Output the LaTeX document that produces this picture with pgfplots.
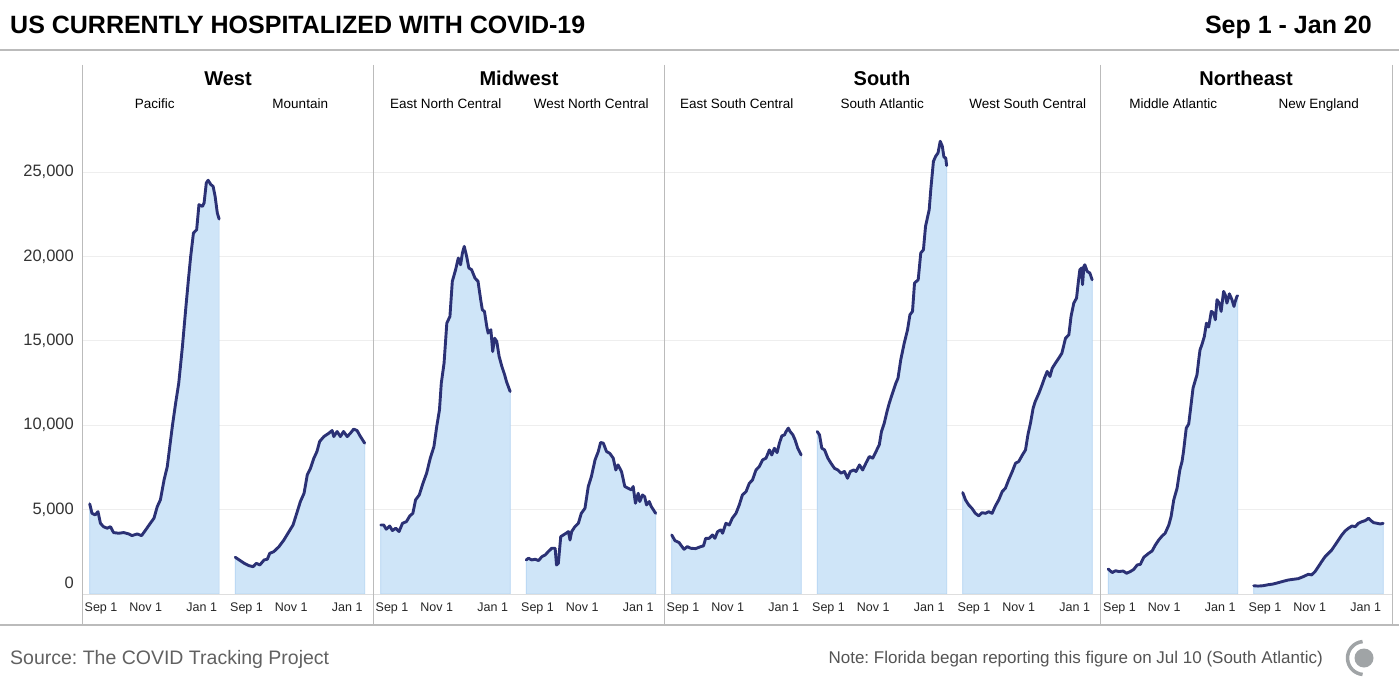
\documentclass[border=0pt]{standalone}
\usepackage{fontspec}
\setmainfont{Liberation Sans}
\usepackage{pgfplots}
\usepackage{pgfplotstable}
\pgfplotsset{compat=1.18}
\frenchspacing

\definecolor{navy}{HTML}{2B3175}
\definecolor{areafill}{HTML}{CFE5F8}
\definecolor{areaedge}{HTML}{B3D4F2}
\definecolor{sepgray}{HTML}{BBBBBB}
\definecolor{gridgray}{HTML}{EEEEEE}
\definecolor{logogray}{HTML}{A0A4A6}

% day since Sep 1, patients currently hospitalized
\pgfplotstableread{
d v
0 5340
2.5 4780
6 4690
9 4880
11.7 4190
15 3990
19 3900
22.6 3990
26 3640
31.7 3600
37 3640
42.6 3560
46 3460
51.7 3560
56.5 3460
61 3800
66 4190
70 4490
73.6 5180
77 5580
81 6760
84.5 7550
87 8640
90 9930
93.6 11310
97 12500
101 14670
104.5 16840
107.5 18620
110 20010
113 21390
116.5 21590
119 23070
122.8 22970
124.6 23170
127 24360
129 24520
132 24260
134.4 24160
136.6 23570
139 22580
141 22220
}\pacific

\pgfplotstableread{
d v
0 2180
4.3 2020
9.8 1820
15 1680
19.5 1620
23 1820
26.8 1720
31.5 2020
35 2060
37.6 2410
42 2510
47.7 2810
53 3200
58.6 3700
63 4090
67 4780
71 5480
75 5970
78.5 7060
82 7450
85.7 8050
89 8440
92 9040
96.6 9330
102 9530
105.6 9690
107.4 9330
111 9630
114.6 9330
118 9630
122 9330
125.5 9530
129 9770
132.7 9690
136 9370
141 8940
}\mountain

\pgfplotstableread{
d v
0 4090
3.3 4090
6 3840
9.8 4030
12.7 3760
16.4 3900
20 3700
23.7 4190
28 4290
31.7 4630
35 4780
38 5580
42 5870
46 6560
50 7160
54 8050
58 8740
61 9920
64 10910
66 12500
69 13680
72 16050
75.4 16450
78 18530
81.6 19220
84.5 19910
87 19510
89 20210
91 20600
93.6 20010
96 19320
99 19220
102.7 18720
106 18530
108.9 17440
110.7 16840
113 16750
115.5 15860
117 15460
120 15660
122 14370
124 15160
126.4 14970
129 14080
132 13480
135 12990
137 12590
141 12000
}\enc

\pgfplotstableread{
d v
0 2020
2.5 2120
6 2020
9.8 2060
13.4 1980
17 2210
20.6 2310
24 2510
27.8 2710
31.5 2710
33 1720
35 1820
37.6 3400
40.5 3500
43.4 3600
46 3700
47.7 3200
49.5 3700
53 3990
56.8 4190
60 4780
64 5080
67.6 6370
71 6960
75 7950
78.5 8440
81 8980
84 8940
87.5 8440
91 8340
94.8 8050
97.6 7350
100 7650
103.8 7260
107.4 6370
111 6270
114.6 6170
116.5 6370
119 5380
122 5970
123.7 5480
126.6 5870
129 5770
131 5280
134 5480
136.3 5180
141 4780
}\wnc

\pgfplotstableread{
d v
0 3500
3.6 3160
8 3050
10.6 2850
13.5 2650
17 2810
20.8 2710
26 2690
31.7 2810
34.6 2850
37 3300
40.8 3300
44.4 3500
47 3300
50 3700
53.6 3800
55.4 3600
59 4190
62.7 4090
66 4490
70 4780
73.6 5280
77 5870
81 6070
84.5 6560
88 6760
91.8 7350
95.4 7550
99 7950
102.7 8050
106.4 8540
109 8240
111.8 8640
114.8 8380
117.3 8940
120 9370
122.8 9430
124.6 9630
127 9830
129 9630
132 9430
134.4 9130
137.3 8640
141 8240
}\esc

\pgfplotstableread{
d v
0 9630
2.5 9430
5 8640
8 8540
11.6 8050
15 7750
18.8 7450
22.4 7350
26 7160
29.7 7260
33 6860
36 7260
39.8 7350
42.3 7260
46 7650
49.5 7350
53 7750
56.8 8150
60.4 8050
64 8440
67.6 8840
70 9630
73 10120
76 10810
78.5 11310
82 11900
85.7 12500
88 12790
91 13880
94.8 14870
98.4 15660
101 16550
103.8 16750
106 18430
110 18620
112.8 20210
115.7 20400
118 21790
122 22780
123.7 23960
126.6 25640
129 25940
131.6 26140
134 26830
136.3 26530
138 25900
140 25840
141 25390
}\satl

\pgfplotstableread{
d v
0 6010
3 5580
6.5 5280
10 5080
13.8 4780
17.5 4630
21 4820
24.7 4780
28.4 4880
32 4780
35.6 5220
39.3 5580
43 6070
46.5 6270
50 6760
54 7260
57.5 7750
61 7850
65 8240
68.4 8540
71 9430
73.8 10120
76.7 11010
79 11410
83 11900
86.5 12400
89 12790
92 13190
95 12890
97.5 13380
101 13680
104.7 13980
108 14270
112 15160
115.6 15360
118 16450
121 17240
124 17540
125.8 18430
127.6 19220
129.5 19320
130.5 18330
132 19410
133 19510
135.6 19120
138.5 19020
141 18620
}\wsc

\pgfplotstableread{
d v
0 1480
4.3 1270
8 1380
11.6 1330
16.3 1360
20 1230
24 1330
27.9 1460
31.5 1720
35 1760
38.8 2180
44 2410
47.8 2550
51.4 2910
55 3200
58.7 3440
62 3600
66 4090
68.5 4590
71.4 5580
75 6270
78 7350
80.4 7850
82 8440
85 9830
87.7 10080
90 11110
92.4 12200
95 12690
96.7 12990
98.6 13880
100 14470
102 14770
104.7 15260
107 16050
109.4 15820
112.3 16750
114.8 16650
116.7 16250
118.5 17440
121 17240
123 16750
125.7 17930
127.5 17730
129.3 17240
132 17790
134.8 17440
137 17040
138.4 17340
140.2 17640
141 17670
}\midatl

\pgfplotstableread{
d v
0 490
4.7 470
10 490
15.7 550
21 590
26.6 670
32 750
37.6 830
43 870
48.5 910
54 1030
59.5 1170
63 1130
66.8 1330
70.4 1620
74 1920
77.7 2210
81.4 2410
85 2610
88.7 2910
92.3 3200
96 3500
99.6 3740
103.3 3900
107 4030
110.6 3990
114 4190
118 4290
121.5 4350
125 4490
127.7 4350
130.6 4230
134.3 4190
138 4150
141 4190
}\newengland

\pgfplotsset{panel/.style={
  scale only axis, width=145.5pt, height=529pt,
  anchor=south west,
  xmin=-8.4, xmax=150.1, ymin=0, ymax=31350,
  clip=false,
  scaled y ticks=false, scaled x ticks=false,
  axis line style={draw=none},
  major tick length=0pt,
  ytick={0,5000,10000,15000,20000,25000},
  yticklabels={},
  ymajorgrids, grid style={draw=gridgray, line width=0.8pt},
  xtick={12.3,61,122},
  xticklabels={Sep 1,Nov 1,Jan 1},
  xticklabel style={font=\fontsize{12.5}{14}\selectfont, text=black!85, anchor=north, inner sep=0pt, yshift=-9pt},
  yticklabel style={font=\fontsize{16.5}{18}\selectfont, text=black!80, anchor=east, inner sep=0pt, xshift=-8pt},
}}

\newcommand{\panel}[4]{%
  \begin{axis}[panel, at={(82pt+#1*145.5pt,-594pt)}, #4]
    \addplot[draw=areaedge, line width=0.7pt, fill=areafill] table {#2} \closedcycle;
    \addplot[navy, line width=2.9pt, line join=round, line cap=round] table {#2};
  \end{axis}
  \node[anchor=base, font=\fontsize{13.5}{16}\selectfont] at (82pt+#1*145.5pt+72.75pt,-109pt) {#3};%
}

\begin{document}
\begin{tikzpicture}
\path[use as bounding box, fill=white] (0,0) rectangle (1399pt,-695pt);

% title bar
\node[anchor=base west, inner sep=0pt, font=\fontsize{25}{30}\selectfont\bfseries] at (10pt,-34pt) {US CURRENTLY HOSPITALIZED WITH COVID-19};
\node[anchor=base east, inner sep=0pt, font=\fontsize{25}{30}\selectfont\bfseries] at (1372pt,-34pt) {Sep 1 - Jan 20};
\draw[sepgray, line width=1.3pt] (0,-50pt) -- (1399pt,-50pt);

% panels
\panel{0}{\pacific}{Pacific}{yticklabels={\raisebox{22pt}{0},{5,000},{10,000},{15,000},{20,000},{25,000}}}
\panel{1}{\mountain}{Mountain}{}
\panel{2}{\enc}{East North Central}{}
\panel{3}{\wnc}{West North Central}{}
\panel{4}{\esc}{East South Central}{}
\panel{5}{\satl}{South Atlantic}{}
\panel{6}{\wsc}{West South Central}{}
\panel{7}{\midatl}{Middle Atlantic}{}
\panel{8}{\newengland}{New England}{}

% baseline and region separators
\draw[black!13, line width=1pt] (82pt,-594pt) -- (1392pt,-594pt);
\foreach \sx in {82,373,664,1100.5,1392}
  \draw[sepgray, line width=1pt] (\sx pt,-65pt) -- (\sx pt,-625pt);

% region titles
\foreach \rx/\rname in {228/West,519/Midwest,882/South,1246/Northeast}
  \node[anchor=base, font=\fontsize{20}{24}\selectfont\bfseries] at (\rx pt,-86pt) {\rname};

% footer
\draw[sepgray, line width=1.3pt] (0,-625pt) -- (1399pt,-625pt);
\node[anchor=base west, inner sep=0pt, font=\fontsize{19.5}{23}\selectfont, text=black!62] at (10pt,-664pt) {Source: The COVID Tracking Project};
\node[anchor=base east, inner sep=0pt, font=\fontsize{17}{20}\selectfont, text=black!67] at (1323pt,-663pt) {Note: Florida began reporting this figure on Jul 10 (South Atlantic)};
\fill[logogray] (1364pt,-658pt) circle (9.5pt);
\draw[logogray, line width=3.5pt] (1364pt,-658pt) ++(95:16.5pt) arc (95:265:16.5pt);
\end{tikzpicture}
\end{document}
